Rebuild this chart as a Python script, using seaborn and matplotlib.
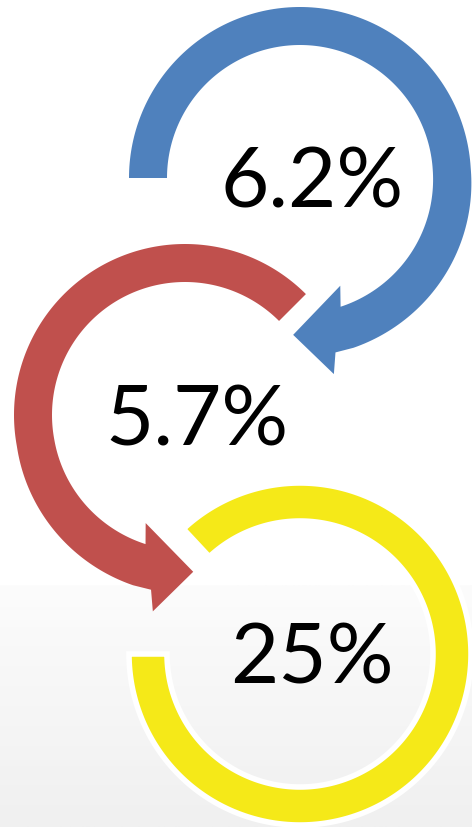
import numpy as np
import matplotlib
matplotlib.use("Agg")
import matplotlib.pyplot as plt
from matplotlib.patches import Polygon
from matplotlib.colors import LinearSegmentedColormap
import seaborn as sns

# values shown inside the three rings (top to bottom)
labels = ["6.2%", "5.7%", "25%"]
ring_colors = ["#4F81BD", "#C0504D", "#F5E918"]

sns.set_theme(style="white")
plt.rcParams['font.family'] = ['Lato', 'DejaVu Sans']

W, H = 472, 827
fig = plt.figure(figsize=(W / 100, H / 100), dpi=100)
ax = fig.add_axes([0, 0, 1, 1])
ax.set_xlim(0, W)
ax.set_ylim(H, 0)
ax.axis('off')

# light grey gradient at the bottom of the slide
grad = np.linspace(0, 1, 100).reshape(-1, 1)
bg_cmap = LinearSegmentedColormap.from_list("bg", ["#fcfcfc", "#f0f0f0"])
ax.imshow(grad, cmap=bg_cmap, extent=[0, W, H, 585], aspect='auto', zorder=0)

R_IN, R_OUT = 133, 171


def pt(cx, cy, r, deg):
    a = np.radians(deg)
    return cx + r * np.cos(a), cy - r * np.sin(a)


def arrow_ring(cx, cy, start, end, d, color):
    # ring body from start to end (d=-1 clockwise, +1 counter-clockwise), arrow head at end
    ts = np.linspace(start, end, 200)
    frac = (ts - start) / (end - start)
    grow = np.clip((frac - 0.7) / 0.3, 0, 1)
    r_out = R_OUT + 7 * grow
    r_in = R_IN + 2 * grow
    outer = [pt(cx, cy, r, t) for r, t in zip(r_out, ts)]
    head = [pt(cx, cy, 178, end + 6 * d),
            pt(cx, cy, 199, end + 7.7 * d),
            pt(cx, cy, 157, end + 20 * d),
            pt(cx, cy, 115, end - 3 * d)]
    inner = [pt(cx, cy, r, t) for r, t in zip(r_in[::-1], ts[::-1])]
    ax.add_patch(Polygon(outer + head + inner, closed=True, facecolor=color,
                         edgecolor='none', zorder=2))


def plain_ring(cx, cy, start, end, color):
    ts = np.linspace(start, end, 300)
    outer = [pt(cx, cy, R_OUT, t) for t in ts]
    inner = [pt(cx, cy, R_IN, t) for t in ts[::-1]]
    ax.add_patch(Polygon(outer + inner, closed=True, facecolor=color,
                         edgecolor='white', linewidth=4, zorder=3))


centers = [(300, 178), (185, 415), (300, 654)]

arrow_ring(*centers[0], 180, -72.5, -1, ring_colors[0])
arrow_ring(*centers[1], 45, 253, 1, ring_colors[1])
plain_ring(*centers[2], 133, -180, ring_colors[2])

for (cx, cy), lab in zip(centers, labels):
    ax.text(cx + 12, cy + 30, lab, fontsize=60, color='black',
            ha='center', va='baseline', zorder=4)

fig.savefig("out.png", dpi=100)
